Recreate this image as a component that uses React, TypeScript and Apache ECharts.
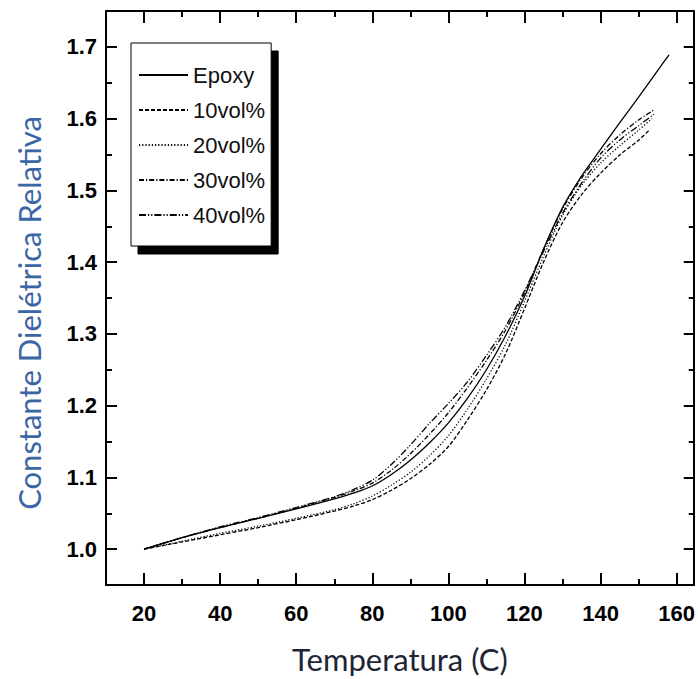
import React, { useEffect, useRef } from "react";
import * as echarts from "echarts";

// ---- data ----
const epoxyT = [20, 30, 40, 50, 60, 70, 75, 80, 85, 90, 95, 100, 105, 110, 115, 120, 125, 130, 135, 140, 145, 150, 155, 158];
const epoxyV = [1.0, 1.016, 1.03, 1.043, 1.056, 1.07, 1.078, 1.088, 1.104, 1.124, 1.148, 1.176, 1.21, 1.25, 1.297, 1.352, 1.418, 1.476, 1.52, 1.557, 1.594, 1.63, 1.667, 1.689];

const vol10T = [20, 30, 40, 50, 60, 70, 75, 80, 85, 90, 95, 100, 105, 110, 115, 120, 125, 130, 135, 140, 145, 150, 153];
const vol10V = [1.0, 1.01, 1.02, 1.03, 1.041, 1.053, 1.06, 1.069, 1.082, 1.098, 1.118, 1.143, 1.18, 1.222, 1.272, 1.335, 1.4, 1.455, 1.494, 1.524, 1.549, 1.57, 1.585];

const vol20T = [20, 30, 40, 50, 60, 70, 75, 80, 85, 90, 95, 100, 105, 110, 115, 120, 125, 130, 135, 140, 145, 150, 153.5];
const vol20V = [1.0, 1.011, 1.022, 1.032, 1.043, 1.055, 1.063, 1.074, 1.089, 1.107, 1.13, 1.158, 1.195, 1.237, 1.285, 1.345, 1.408, 1.465, 1.507, 1.538, 1.562, 1.584, 1.6];

const vol30T = [20, 30, 40, 50, 60, 70, 75, 80, 85, 90, 95, 100, 105, 110, 115, 120, 125, 130, 135, 140, 145, 150, 154];
const vol30V = [1.0, 1.016, 1.03, 1.043, 1.057, 1.072, 1.081, 1.092, 1.11, 1.133, 1.16, 1.19, 1.225, 1.263, 1.305, 1.357, 1.418, 1.474, 1.517, 1.551, 1.577, 1.598, 1.612];

const vol40T = [20, 30, 40, 50, 60, 70, 75, 80, 85, 90, 95, 100, 105, 110, 115, 120, 125, 130, 135, 140, 145, 150, 154];
const vol40V = [1.0, 1.016, 1.031, 1.044, 1.058, 1.073, 1.083, 1.096, 1.118, 1.145, 1.175, 1.203, 1.233, 1.27, 1.31, 1.36, 1.415, 1.468, 1.51, 1.545, 1.57, 1.59, 1.606];

const seriesNames = ["Epoxy", "10vol%", "20vol%", "30vol%", "40vol%"];

const xMajor = [20, 40, 60, 80, 100, 120, 140, 160];
const xMinor = [10, 30, 50, 70, 90, 110, 130, 150];
const yMajor = [1.0, 1.1, 1.2, 1.3, 1.4, 1.5, 1.6, 1.7];
const yMinor = [1.05, 1.15, 1.25, 1.35, 1.45, 1.55, 1.65];

const X_MIN = 10;
const X_MAX = 164.5;
const Y_MIN = 0.95;
const Y_MAX = 1.75;

const tickFont = "'Liberation Sans', Arial, sans-serif";
const titleFont = "Lato, 'Open Sans', sans-serif";

function pairs(t: number[], v: number[]) {
  return t.map((x, i) => [x, v[i]]);
}

export default function App() {
  const ref = useRef<HTMLDivElement>(null);

  useEffect(() => {
    if (!ref.current) return;
    const chart = echarts.init(ref.current, null, { renderer: "svg" });

    const axisLine = { show: true, onZero: false, lineStyle: { color: "#000", width: 2 } };
    const noLine = { show: false };

    const xBase = (position: string) => ({
      type: "value",
      min: X_MIN,
      max: X_MAX,
      position,
      splitLine: { show: false },
    });
    const yBase = (position: string) => ({
      type: "value",
      min: Y_MIN,
      max: Y_MAX,
      position,
      splitLine: { show: false },
    });

    const styles: any[] = [
      "solid",
      [4, 2],
      [1.2, 2],
      [5, 2, 1.2, 2],
      [7, 2, 1.2, 2, 1.2, 2],
    ];
    const datas = [
      pairs(epoxyT, epoxyV),
      pairs(vol10T, vol10V),
      pairs(vol20T, vol20V),
      pairs(vol30T, vol30V),
      pairs(vol40T, vol40V),
    ];

    chart.setOption({
      animation: false,
      backgroundColor: "#fff",
      grid: { left: 106, right: 1, top: 11, bottom: 88 },
      legend: {
        orient: "vertical",
        left: 131,
        top: 43,
        data: seriesNames,
        itemWidth: 49,
        itemHeight: 14,
        itemGap: 13,
        padding: [21, 6, 20, 7],
        backgroundColor: "#fff",
        borderColor: "#000",
        borderWidth: 1,
        shadowColor: "#000",
        shadowBlur: 0,
        shadowOffsetX: 7,
        shadowOffsetY: 8,
        selectedMode: false,
        itemStyle: { opacity: 0 },
        textStyle: { fontFamily: tickFont, fontSize: 22, color: "#111" },
      },
      xAxis: [
        {
          ...xBase("bottom"),
          axisLine,
          axisTick: { show: true, inside: true, length: 12, customValues: xMajor, lineStyle: { color: "#000", width: 2 } },
          axisLabel: {
            customValues: xMajor,
            margin: 17,
            fontFamily: tickFont,
            fontWeight: "bold",
            fontSize: 22,
            color: "#000",
          },
          name: "Temperatura (C)",
          nameLocation: "middle",
          nameGap: 58,
          nameTextStyle: { fontFamily: titleFont, fontSize: 31, color: "#1e2533" },
        },
        {
          ...xBase("bottom"),
          axisLine: noLine,
          axisTick: { show: true, inside: true, length: 6, customValues: xMinor, lineStyle: { color: "#000", width: 2 } },
          axisLabel: { show: false },
        },
        {
          ...xBase("top"),
          axisLine,
          axisTick: { show: true, inside: true, length: 12, customValues: xMajor, lineStyle: { color: "#000", width: 2 } },
          axisLabel: { show: false },
        },
        {
          ...xBase("top"),
          axisLine: noLine,
          axisTick: { show: true, inside: true, length: 6, customValues: xMinor, lineStyle: { color: "#000", width: 2 } },
          axisLabel: { show: false },
        },
      ],
      yAxis: [
        {
          ...yBase("left"),
          axisLine,
          axisTick: { show: true, inside: true, length: 11, customValues: yMajor, lineStyle: { color: "#000", width: 2 } },
          axisLabel: {
            customValues: yMajor,
            margin: 9,
            fontFamily: tickFont,
            fontWeight: "bold",
            fontSize: 22,
            color: "#000",
            formatter: (v: number) => v.toFixed(1),
          },
          name: "Constante Dielétrica Relativa",
          nameLocation: "middle",
          nameGap: 62,
          nameTextStyle: { fontFamily: titleFont, fontSize: 31, color: "#3b66a6", padding: [0, 30, 0, 0] },
        },
        {
          ...yBase("left"),
          axisLine: noLine,
          axisTick: { show: true, inside: true, length: 6, customValues: yMinor, lineStyle: { color: "#000", width: 2 } },
          axisLabel: { show: false },
        },
        {
          ...yBase("right"),
          axisLine,
          axisTick: { show: true, inside: true, length: 10, customValues: yMajor, lineStyle: { color: "#000", width: 2 } },
          axisLabel: { show: false },
        },
        {
          ...yBase("right"),
          axisLine: noLine,
          axisTick: { show: true, inside: true, length: 5, customValues: yMinor, lineStyle: { color: "#000", width: 2 } },
          axisLabel: { show: false },
        },
      ],
      series: seriesNames.map((name, i) => ({
        name,
        type: "line",
        xAxisIndex: 0,
        yAxisIndex: 0,
        data: datas[i],
        showSymbol: false,
        symbol: "none",
        smooth: 0.3,
        lineStyle: { color: "#000", width: 1.3, type: styles[i] },
        itemStyle: { color: "#000" },
      })),
    });

    return () => chart.dispose();
  }, []);

  return (
    <div
      ref={ref}
      style={{ position: "absolute", left: 0, top: 0, width: 698, height: 679 }}
    />
  );
}
